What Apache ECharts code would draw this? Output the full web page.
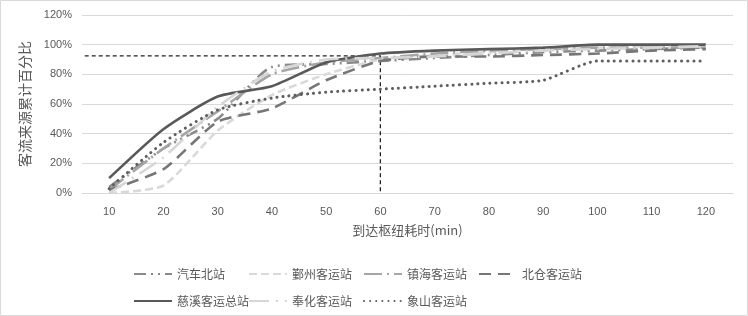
<!DOCTYPE html>
<html style="height: 100%">
<head>
	<meta charset="utf-8">
</head>
<body style="height: 100%; margin: 0">
<div id="container" style="width: 748px; height: 316px"></div>
<script type="text/javascript" src="https://cdn.jsdelivr.net/npm/echarts@6/dist/echarts.min.js"></script>
<script type="text/javascript">
    var dom = document.getElementById("container");
    var myChart = echarts.init(dom);

    // 到达枢纽耗时 (min)
    var minutes = ['10', '20', '30', '40', '50', '60', '70', '80', '90', '100', '110', '120'];
    var yTicks = [0, 20, 40, 60, 80, 100, 120];

    // 各站客流来源累计百分比 (%)
    var qichebei = [4, 30, 50, 85, 87, 89, 91, 93, 95, 96, 97, 98];
    var yinzhou = [0, 5, 42, 66, 80, 90, 93, 95, 97, 98, 99, 99];
    var zhenhai = [2, 30, 55, 80, 88, 91, 94, 96, 97, 98, 98, 98];
    var beicang = [2, 16, 48, 57, 76, 89, 92, 92, 93, 94, 96, 97];
    var cixi = [10, 43, 65, 72, 88, 94, 96, 97, 98, 100, 100, 100];
    var fenghua = [0, 24, 58, 82, 90, 91, 92, 94, 96, 97, 98, 99];
    var xiangshan = [3, 34, 56, 64, 68, 70, 72, 74, 76, 89, 89, 89];

    // 参考线: 60 min 对应 92.5%
    var refLine = [[5.5, 92.5], [60, 92.5], [60, 0]];

    var stations = [
        {name: '汽车北站', data: qichebei, color: '#8a8a8a', type: [12, 5, 2, 5, 2, 5], width: 2.6},
        {name: '鄞州客运站', data: yinzhou, color: '#d9d9d9', type: [8, 4], width: 2.6},
        {name: '镇海客运站', data: zhenhai, color: '#a5a5a5', type: [18, 5, 2, 5], width: 2.6},
        {name: '北仓客运站', data: beicang, color: '#767676', type: [12, 7], width: 2.6},
        {name: '慈溪客运总站', data: cixi, color: '#595959', type: 'solid', width: 2.6},
        {name: '奉化客运站', data: fenghua, color: '#d6d6d6', type: [20, 7, 2, 7], width: 2.6},
        {name: '象山客运站', data: xiangshan, color: '#5f5f5f', type: [0.1, 6], width: 3, cap: 'round'}
    ];

    var series = [];
    var legends = [];
    for (var i = 0; i < stations.length; i++) {
        var s = stations[i];
        series.push({
            name: s.name,
            type: 'line',
            smooth: 0.2,
            symbol: 'none',
            data: s.data,
            lineStyle: {color: s.color, width: s.width, type: s.type, cap: s.cap || 'butt'},
            itemStyle: {color: s.color}
        });
        legends.push({
            data: [s.name],
            left: 128 + (i % 4) * 115,
            top: i < 4 ? 263 : 290,
            itemWidth: 38,
            itemHeight: 12,
            itemGap: 4,
            itemStyle: {opacity: 0},
            textStyle: {color: '#595959', fontSize: 12, fontFamily: 'Noto Sans CJK SC'}
        });
    }
    series.push({
        type: 'line',
        xAxisIndex: 1,
        data: refLine,
        symbol: 'none',
        silent: true,
        lineStyle: {color: '#222', width: 1.3, type: [4, 3]},
        z: 1
    });

    var option = {
        backgroundColor: '#fff',
        animation: false,
        legend: legends,
        graphic: [{
            type: 'rect',
            shape: {x: 0.5, y: 0.5, width: 747, height: 315},
            style: {fill: null, stroke: '#d9d9d9', lineWidth: 1}
        }],
        grid: {left: 82, right: 15, top: 15, bottom: 123},
        xAxis: [{
            type: 'category',
            data: minutes,
            boundaryGap: true,
            name: '到达枢纽耗时(min)',
            nameLocation: 'middle',
            nameGap: 31,
            nameTextStyle: {color: '#595959', fontSize: 13, fontFamily: 'Noto Sans CJK SC'},
            axisLine: {lineStyle: {color: '#d9d9d9'}},
            axisTick: {show: false},
            axisLabel: {color: '#595959', fontSize: 11, margin: 13, fontFamily: 'Liberation Sans'}
        }, {
            type: 'value',
            min: 5,
            max: 125,
            show: false
        }],
        yAxis: {
            type: 'value',
            min: yTicks[0],
            max: yTicks[yTicks.length - 1],
            interval: 20,
            name: '客流来源累计百分比',
            nameLocation: 'middle',
            nameGap: 50,
            nameRotate: 90,
            nameTextStyle: {color: '#595959', fontSize: 14, fontFamily: 'Noto Sans CJK SC'},
            axisLine: {show: false},
            axisTick: {show: false},
            axisLabel: {color: '#595959', fontSize: 11, margin: 10, formatter: '{value}%', fontFamily: 'Liberation Sans'},
            splitLine: {lineStyle: {color: '#d9d9d9', width: 1}}
        },
        series: series
    };

    myChart.setOption(option);
</script>
</body>
</html>
